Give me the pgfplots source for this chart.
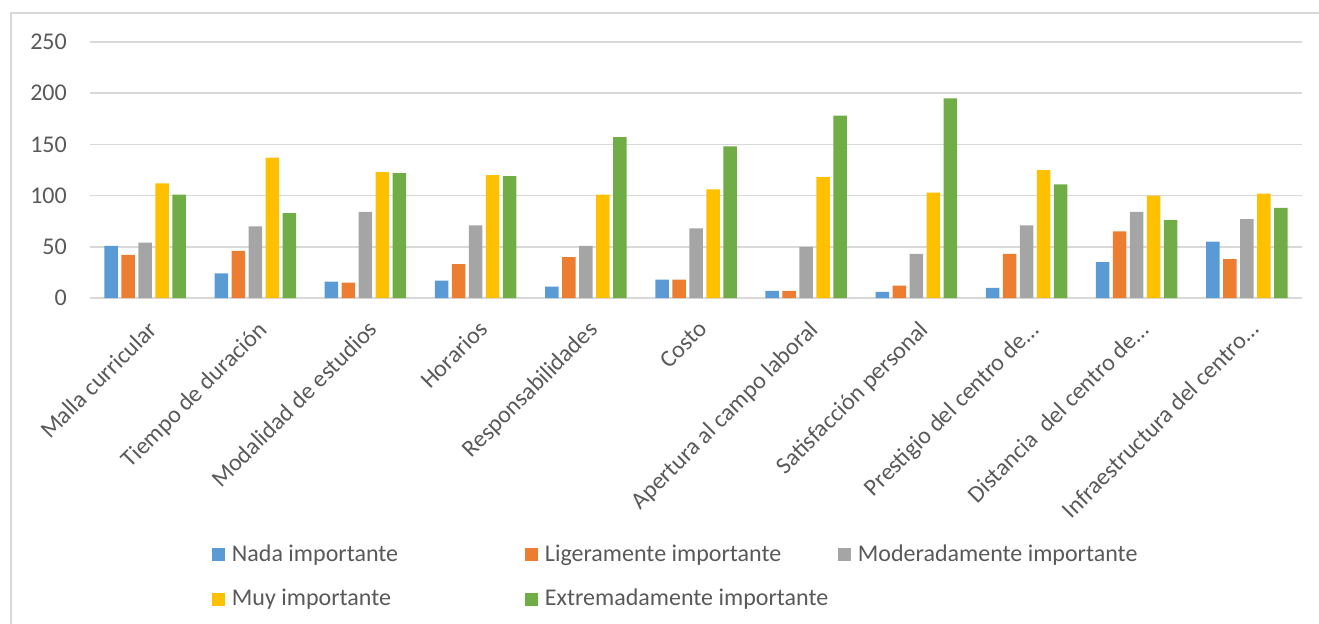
\documentclass[border=0pt]{standalone}
\usepackage{pgfplots}
\pgfplotsset{compat=1.18}
\usepackage{fontspec}
\setmainfont{Carlito}
\definecolor{cblue}{HTML}{5B9BD5}
\definecolor{corange}{HTML}{ED7D31}
\definecolor{cgray}{HTML}{A5A5A5}
\definecolor{cyellow}{HTML}{FFC000}
\definecolor{cgreen}{HTML}{70AD47}
\definecolor{txt}{HTML}{595959}
\definecolor{gridc}{HTML}{D9D9D9}
\begin{document}
\fontsize{24bp}{29bp}\selectfont
\begin{tikzpicture}
\useasboundingbox (-90bp,-326bp) rectangle (1229bp,298bp);
\draw[gridc, line width=1.5bp] (-79bp,-326bp) -- (-79bp,285bp) -- (1229bp,285bp);
\begin{axis}[
  at={(0,0)}, anchor=south west,
  width=1212bp, height=256bp, scale only axis,
  xmin=-0.5, xmax=10.5, ymin=0, ymax=250,
  ybar=3.5bp, bar width=13.5bp,
  xtick={0,...,10},
  xticklabels={Malla curricular, Tiempo de duración, Modalidad de estudios, Horarios, Responsabilidades, Costo, Apertura al campo laboral, Satisfacción personal, Prestigio del centro de…, Distancia~ del centro de…, Infraestructura del centro…},
  ytick={0,50,...,250},
  ymajorgrids, grid style={gridc, line width=1.5bp},
  axis line style={draw=none},
  major tick length=0,
  tick label style={font=\fontsize{24bp}{29bp}\selectfont, text=txt},
  /pgf/number format/assume math mode=true,
  xticklabel style={rotate=45, anchor=north east, inner sep=0pt, xshift=-14bp, yshift=-16bp},
  yticklabel style={xshift=-15bp},
  legend columns=3,
  legend image code/.code={\fill[#1] (0bp,-6.5bp) rectangle (13bp,6.5bp);},
  legend style={at={(axis description cs:0.098,-0.947)}, anchor=north west, draw=none, fill=none,
    font=\fontsize{24bp}{29bp}\selectfont, text=txt, row sep=20bp,
    /tikz/every even column/.append style={column sep=0bp}},
]
\addplot[fill=cblue, draw=none] coordinates {(0,51) (1,24) (2,16) (3,17) (4,11) (5,18) (6,7) (7,6) (8,10) (9,35) (10,55)};
\addlegendentry{\makebox[296bp][l]{\hspace{5bp}Nada importante}}
\addplot[fill=corange, draw=none] coordinates {(0,42) (1,46) (2,15) (3,33) (4,40) (5,18) (6,7) (7,12) (8,43) (9,65) (10,38)};
\addlegendentry{\makebox[296bp][l]{\hspace{5bp}Ligeramente importante}}
\addplot[fill=cgray, draw=none] coordinates {(0,54) (1,70) (2,84) (3,71) (4,51) (5,68) (6,50) (7,43) (8,71) (9,84) (10,77)};
\addlegendentry{\makebox[296bp][l]{\hspace{5bp}Moderadamente importante}}
\addplot[fill=cyellow, draw=none] coordinates {(0,112) (1,137) (2,123) (3,120) (4,101) (5,106) (6,118) (7,103) (8,125) (9,100) (10,102)};
\addlegendentry{\makebox[296bp][l]{\hspace{5bp}Muy importante}}
\addplot[fill=cgreen, draw=none] coordinates {(0,101) (1,83) (2,122) (3,119) (4,157) (5,148) (6,178) (7,195) (8,111) (9,76) (10,88)};
\addlegendentry{\makebox[296bp][l]{\hspace{5bp}Extremadamente importante}}
\end{axis}
\end{tikzpicture}
\end{document}
